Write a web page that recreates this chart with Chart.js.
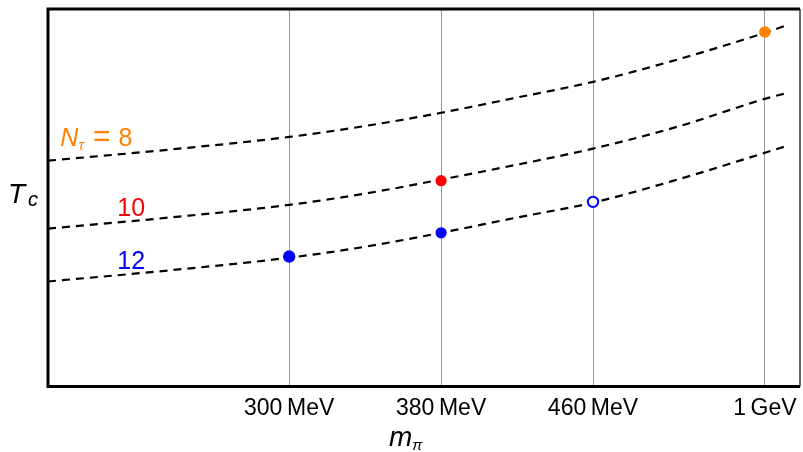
<!DOCTYPE html>
<html>
<head>
<meta charset="utf-8">
<script src="https://cdn.jsdelivr.net/npm/chart.js@4.4.1/dist/chart.umd.min.js"></script>
<style>
  html, body { margin: 0; padding: 0; background: #fff; }
  #wrap { width: 803px; height: 452px; }
</style>
</head>
<body>
<div id="wrap"><canvas id="grafico" width="803" height="452"></canvas></div>
<script>
// posiciones en el eje x (escala lineal del dibujo, 1 GeV colocado a mano)
const xCurva = [173, 236, 300, 340, 380, 419.5, 460, 505.8, 550.5, 562.6];
// curvas discontinuas de T_c (unidades arbitrarias)
const curvaN8 = [59.8, 62.7, 66.1, 69.0, 72.5, 76.5, 80.7, 86.8, 93.7, 95.8];
const curvaN10 = [41.8, 44.7, 48.1, 51.1, 54.8, 58.7, 63.0, 69.0, 76.2, 77.8];
const curvaN12 = [27.8, 30.7, 34.1, 37.0, 40.7, 44.7, 48.7, 55.0, 61.9, 63.8];

// puntos medidos
const puntoN8 = [{ x: 550.5, y: 93.9 }];
const puntoN10 = [{ x: 380, y: 54.5 }];
const puntosN12 = [{ x: 300, y: 34.4 }, { x: 380, y: 40.7 }];
const puntoAbierto = [{ x: 460, y: 48.9 }];

// marcas del eje x
const valoresTicks = [300, 380, 460, 550.5];
const etiquetasTicks = ["300\u2009MeV", "380\u2009MeV", "460\u2009MeV", "1\u2009GeV"];

const NARANJA = "#ff8000";
const ROJO = "#ff0000";
const AZUL = "#0000ff";
const FUENTE = "'Liberation Sans', Arial, Helvetica, sans-serif";

function serie(ys) {
    return xCurva.map((x, i) => ({ x: x, y: ys[i] }));
}

function lineaDiscontinua(ys) {
    return {
        data: serie(ys),
        borderColor: "#000",
        borderWidth: 2.2,
        borderDash: [8, 6],
        pointRadius: 0,
        cubicInterpolationMode: "monotone",
        fill: false
    };
}

function puntos(datos, color, radio, relleno) {
    return {
        data: datos,
        showLine: false,
        pointRadius: radio,
        pointHoverRadius: radio,
        pointBackgroundColor: relleno,
        pointBorderColor: color,
        pointBorderWidth: relleno === "#fff" ? 2 : 0
    };
}

// escribe trozos de texto seguidos: [texto, fuente, color, desplazamiento vertical, hueco]
function escribir(ctx, x, y, trozos) {
    ctx.save();
    ctx.textBaseline = "alphabetic";
    ctx.textAlign = "left";
    trozos.forEach(t => {
        ctx.font = t[1];
        ctx.fillStyle = t[2];
        ctx.fillText(t[0], x, y + (t[3] || 0));
        x += ctx.measureText(t[0]).width + (t[4] || 0);
    });
    ctx.restore();
}

const anotaciones = {
    id: "anotaciones",
    afterDraw(chart) {
        const { ctx, chartArea, scales } = chart;
        const sx = scales.x, sy = scales.y;

        // marco
        ctx.save();
        ctx.strokeStyle = "#000";
        ctx.lineWidth = 3;
        ctx.beginPath();
        ctx.moveTo(chartArea.right, chartArea.top);
        ctx.lineTo(chartArea.left, chartArea.top);
        ctx.lineTo(chartArea.left, chartArea.bottom);
        ctx.lineTo(chartArea.right, chartArea.bottom);
        ctx.stroke();
        ctx.lineWidth = 1.2;
        ctx.beginPath();
        ctx.moveTo(chartArea.right, chartArea.top);
        ctx.lineTo(chartArea.right, chartArea.bottom);
        ctx.stroke();
        ctx.restore();

        // etiquetas de las curvas
        escribir(ctx, sx.getPixelForValue(179.5), sy.getPixelForValue(63.8), [
            ["N", "italic 25px " + FUENTE, NARANJA, 0, 0],
            ["\u03c4", "italic 15px " + FUENTE, NARANJA, 4, 9],
            ["=", "30px " + FUENTE, NARANJA, 0, 8],
            ["8", "25px " + FUENTE, NARANJA, 0]
        ]);
        escribir(ctx, sx.getPixelForValue(209.5), sy.getPixelForValue(45.2), [
            ["10", "25px " + FUENTE, ROJO, 0]
        ]);
        escribir(ctx, sx.getPixelForValue(209.5), sy.getPixelForValue(31.2), [
            ["12", "25px " + FUENTE, AZUL, 0]
        ]);

        // titulos de los ejes
        escribir(ctx, 8, 203, [
            ["T", "italic 28px " + FUENTE, "#000", 0, 3],
            ["c", "italic 20px " + FUENTE, "#000", 3]
        ]);
        escribir(ctx, 389, 446, [
            ["m", "italic 28px " + FUENTE, "#000", 0, 0],
            ["\u03c0", "italic 15px " + FUENTE, "#000", 4]
        ]);
    }
};

new Chart(document.querySelector("#grafico"), {
    type: "line",
    data: {
        datasets: [
            puntos(puntoN8, NARANJA, 5.8, NARANJA),
            puntos(puntoN10, ROJO, 5.6, ROJO),
            puntos(puntosN12.slice(0, 1), AZUL, 6.2, AZUL),
            puntos(puntosN12.slice(1), AZUL, 5.6, AZUL),
            puntos(puntoAbierto, AZUL, 5.2, "#fff"),
            lineaDiscontinua(curvaN8),
            lineaDiscontinua(curvaN10),
            lineaDiscontinua(curvaN12)
        ]
    },
    options: {
        responsive: false,
        animation: false,
        layout: { autoPadding: false, padding: { left: 48, right: 3, top: 9, bottom: 22 } },
        plugins: { legend: { display: false }, tooltip: { enabled: false } },
        scales: {
            x: {
                type: "linear",
                min: 173,
                max: 569,
                afterBuildTicks: (eje) => {
                    eje.ticks = valoresTicks.map(v => ({ value: v }));
                },
                afterFit: (eje) => {
                    // que la ultima etiqueta no encoja el area del grafico
                    eje.paddingLeft = 0;
                    eje.paddingRight = 0;
                },
                ticks: {
                    autoSkip: false,
                    maxRotation: 0,
                    padding: 8,
                    color: "#000",
                    font: { family: FUENTE, size: 23 },
                    callback: (valor) => etiquetasTicks[valoresTicks.indexOf(valor)]
                },
                grid: { color: "#999", lineWidth: 1, drawTicks: false },
                border: { display: false }
            },
            y: {
                display: false,
                min: 0,
                max: 100
            }
        }
    },
    plugins: [anotaciones]
});
</script>
</body>
</html>
